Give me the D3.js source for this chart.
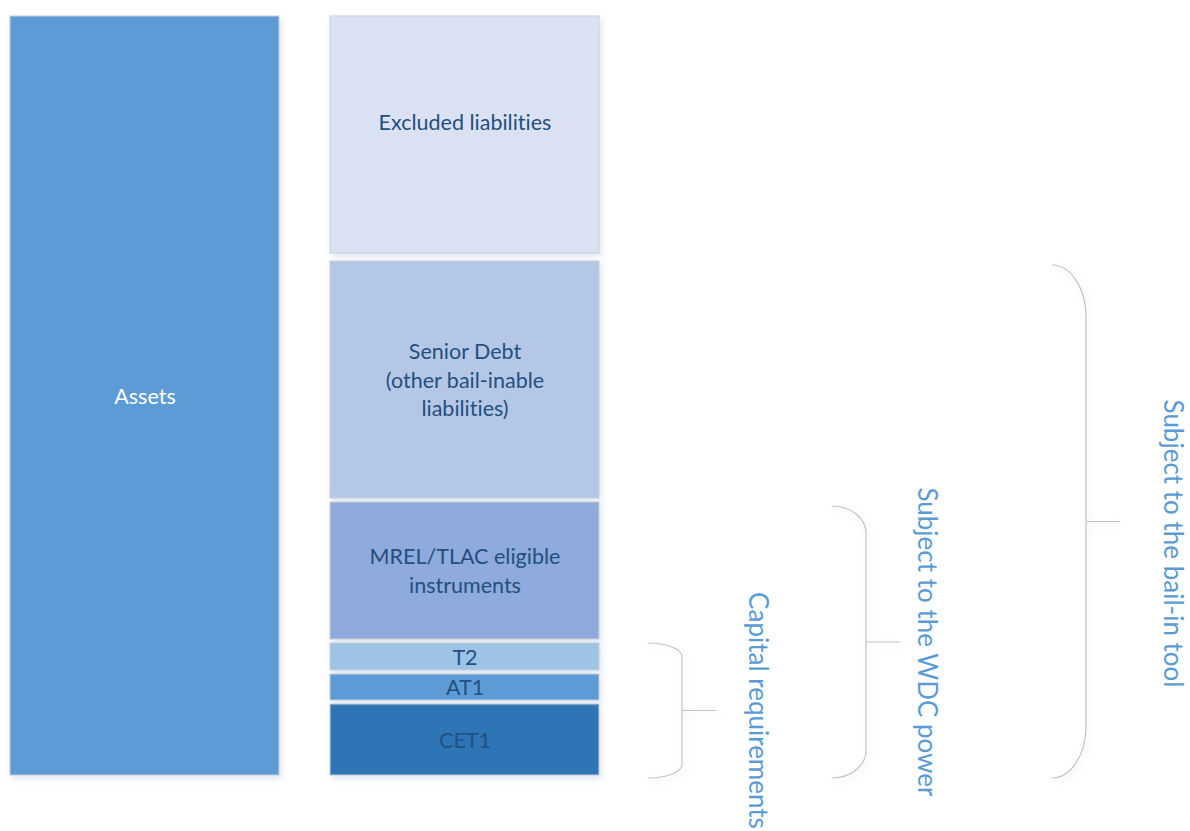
<!DOCTYPE html>
<html>
<head>
<meta charset="utf-8">
<script src="https://cdn.jsdelivr.net/npm/d3@7"></script>
<style>
  body { margin: 0; background: #fff; }
  svg { display: block; font-family: Lato, 'Open Sans', sans-serif; font-variant-ligatures: none; }
</style>
</head>
<body>
<svg id="chart" width="1190" height="831"></svg>
<script>
// balance sheet layers, bottom to top
const layers = ['CET1', 'AT1', 'T2', 'MREL', 'Senior', 'Excluded']
const layerValues = [75, 30, 31, 141, 245, 237]
const layerLabels = [
  ['CET1'], ['AT1'], ['T2'],
  ['MREL/TLAC eligible', 'instruments'],
  ['Senior Debt', '(other bail-inable', 'liabilities)'],
  ['Excluded liabilities']
]
const layerColors = ['#2e75b6', '#5b9bd5', '#9dc3e6', '#8faadc', '#b4c7e7', '#dae1f3']

// brackets: label + the highest layer each one reaches (all start at CET1)
const bracketLabels = ['Capital requirements', 'Subject to the WDC power', 'Subject to the bail-in tool']
const bracketTopLayer = ['T2', 'MREL', 'Senior']

const columns = ['Assets', 'Liabilities']

const total = d3.sum(layerValues)

/* ----------  SETUP  ---------- */
const svg = d3.select('#chart')

const defs = svg.append('defs')
const shadow = defs.append('filter')
  .attr('id', 'soft')
  .attr('x', '-10%').attr('y', '-10%')
  .attr('width', '130%').attr('height', '130%')
shadow.append('feDropShadow')
  .attr('dx', 2).attr('dy', 3)
  .attr('stdDeviation', 3)
  .attr('flood-color', '#9fb6d6')
  .attr('flood-opacity', 0.35)

const x = d3.scaleBand()
  .domain(columns)
  .range([10, 600])
  .paddingInner(50 / 320)

const y = d3.scaleLinear()
  .domain([0, total])
  .range([775, 16])

const TEXT_DARK = '#22507f'
const FONT = '21.5px'
const GAP = 4

/* ----------  STACK  ---------- */
let cum = 0
const stacked = layerValues.map((v, i) => {
  const d = { key: layers[i], y0: cum, y1: cum + v, lines: layerLabels[i], color: layerColors[i] }
  cum += v
  return d
})

// top of each drawn block (gap above, wider gap under the excluded part)
const blockTop = (d, i) => {
  if (i === stacked.length - 1) return y(d.y1)
  const extra = stacked[i + 1].key === 'Excluded' ? 2 * GAP : GAP
  return y(d.y1) + extra
}

/* ----------  ASSETS  ---------- */
svg.append('rect')
  .attr('x', x('Assets'))
  .attr('y', y(total))
  .attr('width', x.bandwidth() - 1)
  .attr('height', y(0) - y(total))
  .attr('fill', '#5b9bd5')
  .attr('stroke', '#c9cfd8')
  .attr('stroke-width', 1)
  .attr('filter', 'url(#soft)')

svg.append('text')
  .attr('x', x('Assets') + x.bandwidth() / 2)
  .attr('y', y(total / 2))
  .attr('text-anchor', 'middle')
  .attr('dominant-baseline', 'central')
  .style('font-size', FONT)
  .style('fill', '#fff')
  .text('Assets')

/* ----------  LIABILITIES  ---------- */
const blocks = svg.selectAll('.block')
  .data(stacked)
  .enter().append('g')
  .attr('class', 'block')

blocks.append('rect')
  .attr('x', x('Liabilities'))
  .attr('y', (d, i) => blockTop(d, i))
  .attr('width', x.bandwidth() - 1)
  .attr('height', (d, i) => y(d.y0) - blockTop(d, i))
  .attr('fill', d => d.color)
  .attr('stroke', '#c9cfd8')
  .attr('stroke-width', 1)
  .attr('filter', 'url(#soft)')

blocks.each(function (d, i) {
  // excluded text sits in the upper part of its box
  const shift = d.key === 'Excluded' ? -13 : 0
  const cy = (blockTop(d, i) + y(d.y0)) / 2 + shift
  const lh = 28.5
  const t = d3.select(this).append('text')
    .attr('text-anchor', 'middle')
    .style('font-size', FONT)
    .style('fill', TEXT_DARK)
  d.lines.forEach((ln, k) => {
    t.append('tspan')
      .attr('x', x('Liabilities') + x.bandwidth() / 2)
      .attr('y', cy + (k - (d.lines.length - 1) / 2) * lh)
      .attr('dominant-baseline', 'central')
      .text(ln)
  })
})

/* ----------  BRACKETS  ---------- */
const bracketX = [648, 832, 1052]     // tip of each bracket
const labelX = [759, 928, 1174]
const labelShift = [0, 0, 22]
const BW = 34

bracketLabels.forEach((lab, i) => {
  const li = layers.indexOf(bracketTopLayer[i])
  const top = blockTop(stacked[li], li) + (i === 0 ? 0 : 4)
  const bot = y(0) + 3
  const h = (bot - top) * 0.1
  const x0 = bracketX[i]
  const mid = (top + bot) / 2

  const path = d3.path()
  path.moveTo(x0, top)
  path.bezierCurveTo(x0 + BW * 0.55, top, x0 + BW, top + h * 0.45, x0 + BW, top + h)
  path.lineTo(x0 + BW, bot - h)
  path.bezierCurveTo(x0 + BW, bot - h * 0.45, x0 + BW * 0.55, bot, x0, bot)
  path.moveTo(x0 + BW, mid)
  path.lineTo(x0 + 2 * BW, mid)

  svg.append('path')
    .attr('d', path.toString())
    .attr('fill', 'none')
    .attr('stroke', '#c4c4c4')
    .attr('stroke-width', 1.2)
    .attr('filter', 'url(#soft)')

  svg.append('text')
    .attr('transform', `translate(${labelX[i]}, ${mid + labelShift[i]}) rotate(90)`)
    .attr('text-anchor', 'middle')
    .attr('dominant-baseline', 'central')
    .style('font-size', '26px')
    .style('fill', '#5b9bd5')
    .text(lab)
})
</script>
</body>
</html>
